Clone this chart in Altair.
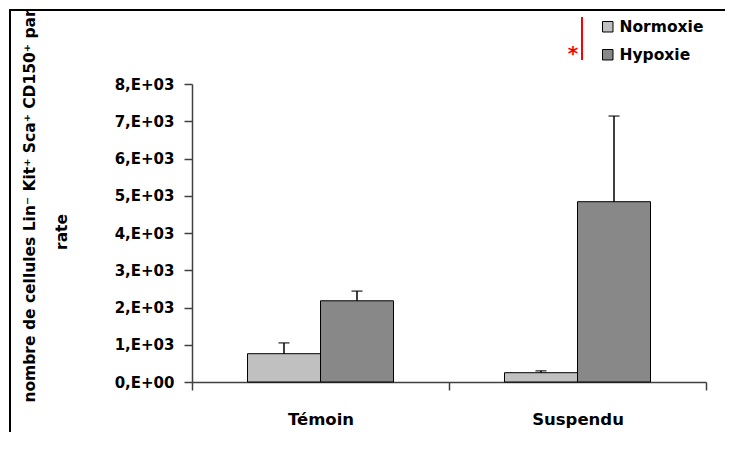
import altair as alt
import pandas as pd

groups = ["Témoin", "Témoin", "Suspendu", "Suspendu"]
conditions = ["Normoxie", "Hypoxie", "Normoxie", "Hypoxie"]
means = [760, 2180, 250, 4840]
errors = [290, 260, 50, 2300]
group_order = ["Témoin", "Suspendu"]
cond_order = ["Normoxie", "Hypoxie"]
cond_colors = ["#c0c0c0", "#888888"]
y_ticks = [0, 1000, 2000, 3000, 4000, 5000, 6000, 7000, 8000]
title_line1 = "nombre de cellules Lin\u207b Kit\u207a Sca\u207a CD150\u207a par"
title_line2 = "rate"

FONT = "DejaVu Sans"

df = pd.DataFrame({"group": groups, "condition": conditions, "mean": means, "err": errors})
df["upper"] = df["mean"] + df["err"]
one = pd.DataFrame({"a": [0]})

x_axis = alt.Axis(title=None, labelAngle=0, tickBand="extent", tickSize=8,
                  labelPadding=21, domainColor="#404040", tickColor="#404040",
                  domainWidth=1.5, tickWidth=1.5,
                  labelFont=FONT, labelFontSize=16.5, labelFontWeight="bold",
                  labelColor="black")
y_axis = alt.Axis(values=y_ticks, title=None, grid=False, tickSize=8,
                  labelPadding=10, domainColor="#404040", tickColor="#404040",
                  domainWidth=1.5, tickWidth=1.5, labelOverlap=False,
                  labelFlush=False,
                  labelExpr="datum.value == 0 ? '0,E+00' : (datum.value/1000) + ',E+03'",
                  labelFont=FONT, labelFontSize=15, labelFontWeight="bold",
                  labelColor="black")
x_scale = alt.Scale(paddingInner=0, paddingOuter=0)
xoff = alt.XOffset("condition:N", sort=cond_order,
                   scale=alt.Scale(paddingInner=0, paddingOuter=0.76))
y_scale = alt.Scale(domain=[0, 8000], nice=False)


def xenc():
    return alt.X("group:N", sort=group_order, scale=x_scale, axis=x_axis)


base = alt.Chart(df)

bars = base.mark_bar(stroke="black", strokeWidth=1).encode(
    x=xenc(), xOffset=xoff,
    y=alt.Y("mean:Q", scale=y_scale, axis=y_axis),
    color=alt.Color("condition:N", sort=cond_order,
                    scale=alt.Scale(domain=cond_order, range=cond_colors),
                    legend=alt.Legend(title=None, orient="none", legendX=408, legendY=-65,
                                      symbolType="square", symbolSize=110,
                                      symbolStrokeColor="black", symbolStrokeWidth=1,
                                      labelFont=FONT, labelFontSize=15.5, labelFontWeight="bold",
                                      labelColor="black", rowPadding=11)),
)

rules = base.mark_rule(color="black", strokeWidth=1.5).encode(
    x=xenc(), xOffset=xoff,
    y=alt.Y("mean:Q", scale=y_scale, axis=y_axis), y2="upper:Q",
)
caps = base.mark_tick(color="black", thickness=1.5, size=11).encode(
    x=xenc(), xOffset=xoff,
    y=alt.Y("upper:Q", scale=y_scale, axis=y_axis),
)

frame_left = alt.Chart(one).mark_rule(color="black", strokeWidth=2).encode(
    x=alt.value(-182), y=alt.value(-74), y2=alt.value(360))
frame_top = alt.Chart(one).mark_rule(color="black", strokeWidth=2).encode(
    x=alt.value(-183), x2=alt.value(540), y=alt.value(-74))
red_line = alt.Chart(one).mark_rule(color="red", strokeWidth=2).encode(
    x=alt.value(390), y=alt.value(-67), y2=alt.value(-24))
asterisk = alt.Chart(one).mark_text(text="*", color="red", fontSize=20,
                                    font=FONT, fontWeight="bold").encode(
    x=alt.value(381), y=alt.value(-30))
t1 = alt.Chart(one).mark_text(text=title_line1, angle=270, font=FONT, fontSize=15.5,
                              fontWeight="bold", color="black", align="center",
                              baseline="middle").encode(
    x=alt.value(-162), y=alt.value(122))
t2 = alt.Chart(one).mark_text(text=title_line2, angle=270, font=FONT, fontSize=15.5,
                              fontWeight="bold", color="black", align="center",
                              baseline="middle").encode(
    x=alt.value(-130), y=alt.value(148))

chart = alt.layer(bars, rules, caps, frame_left, frame_top, red_line, asterisk, t1, t2).properties(
    width=514, height=298,
    autosize=alt.AutoSizeParams(type="none"),
    padding={"left": 184, "top": 76, "right": 19, "bottom": 50},
).configure_view(stroke=None)

chart.save("out.html", embed_options={"renderer": "svg", "actions": False})
